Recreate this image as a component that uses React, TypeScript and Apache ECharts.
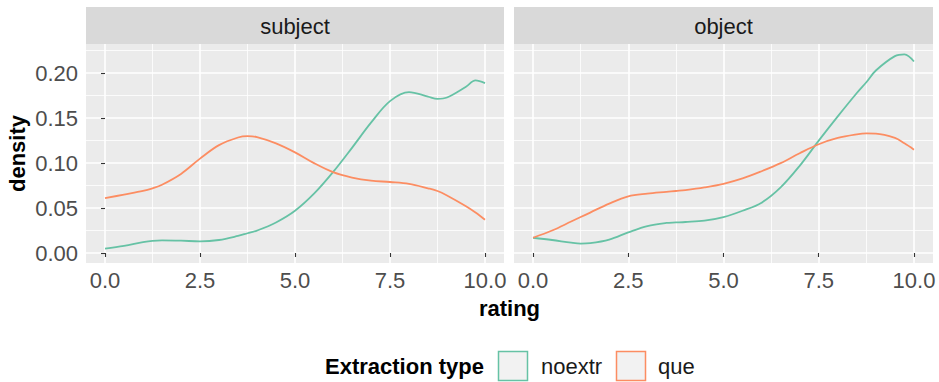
import React, { useEffect, useRef } from "react";
import * as echarts from "echarts";

const ratingGrid = [0, 0.5, 1, 1.25, 1.5, 2, 2.5, 3, 3.5, 3.75, 4, 4.5, 5, 5.5, 6, 6.5, 7, 7.5, 8, 8.5, 8.75, 9, 9.5, 9.75, 10];
const subjectNoextr = [0.005, 0.008, 0.012, 0.0135, 0.014, 0.0137, 0.013, 0.0145, 0.019, 0.022, 0.025, 0.034, 0.047, 0.066, 0.09, 0.117, 0.145, 0.169, 0.179, 0.174, 0.1715, 0.173, 0.185, 0.192, 0.189];
const subjectQue = [0.061, 0.065, 0.069, 0.072, 0.076, 0.088, 0.105, 0.12, 0.1285, 0.13, 0.129, 0.122, 0.112, 0.1, 0.09, 0.084, 0.0805, 0.079, 0.077, 0.072, 0.069, 0.064, 0.052, 0.045, 0.037];
const objectNoextr = [0.017, 0.0145, 0.0115, 0.0105, 0.011, 0.015, 0.023, 0.03, 0.0335, 0.034, 0.0345, 0.036, 0.04, 0.047, 0.056, 0.073, 0.097, 0.125, 0.152, 0.178, 0.19, 0.203, 0.219, 0.221, 0.213];
const objectQue = [0.017, 0.025, 0.035, 0.04, 0.045, 0.055, 0.063, 0.066, 0.068, 0.069, 0.07, 0.073, 0.077, 0.083, 0.091, 0.1, 0.111, 0.121, 0.128, 0.132, 0.133, 0.1328, 0.128, 0.122, 0.115];

const facets = ["subject", "object"];
const groups = ["noextr", "que"];
const groupColors = ["#66C2A5", "#FC8D62"];
const xMajor = [0, 2.5, 5, 7.5, 10];
const xMinor = [1.25, 3.75, 6.25, 8.75];
const yMajor = [0, 0.05, 0.1, 0.15, 0.2];
const yMinor = [0.025, 0.075, 0.125, 0.175, 0.225];

const FONT = "Liberation Sans, Arial, sans-serif";

export default function App() {
  const ref = useRef<HTMLDivElement>(null);
  useEffect(() => {
    if (!ref.current) return;
    const chart = echarts.init(ref.current, null, { renderer: "svg" });
    const grids = [
      { left: 86, top: 44, width: 418, height: 219 },
      { left: 514, top: 44, width: 419, height: 219 },
    ];
    const xAxes: any[] = [];
    const yAxes: any[] = [];
    grids.forEach((_, gi) => {
      xAxes.push({
        gridIndex: gi, type: "value", min: -0.5, max: 10.5, position: "bottom",
        axisLine: { show: false },
        axisTick: { show: true, length: 4, lineStyle: { color: "#333333", width: 1.1 }, customValues: xMajor },
        axisLabel: { show: true, customValues: xMajor, formatter: (v: number) => v.toFixed(1), fontSize: 22, color: "#4d4d4d", margin: 6, fontFamily: FONT },
        splitLine: { show: true, lineStyle: { color: "#ffffff", width: 1.6 } },
      });
      xAxes.push({
        gridIndex: gi, type: "value", min: -0.5, max: 10.5, position: "top",
        axisLine: { show: false },
        axisTick: { show: false, customValues: xMinor },
        axisLabel: { show: false, customValues: xMinor },
        splitLine: { show: true, lineStyle: { color: "#ffffff", width: 0.8 } },
      });
      yAxes.push({
        gridIndex: gi, type: "value", min: -0.0111, max: 0.2325, position: "left",
        axisLine: { show: false },
        axisTick: { show: gi === 0, length: 4, lineStyle: { color: "#333333", width: 1.1 }, customValues: yMajor },
        axisLabel: { show: gi === 0, customValues: yMajor, formatter: (v: number) => v.toFixed(2), fontSize: 22, color: "#4d4d4d", margin: 8, fontFamily: FONT },
        splitLine: { show: true, lineStyle: { color: "#ffffff", width: 1.6 } },
      });
      yAxes.push({
        gridIndex: gi, type: "value", min: -0.0111, max: 0.2325, position: "right",
        axisLine: { show: false },
        axisTick: { show: false, customValues: yMinor },
        axisLabel: { show: false, customValues: yMinor },
        splitLine: { show: true, lineStyle: { color: "#ffffff", width: 0.8 } },
      });
    });
    const seriesData = [
      [subjectNoextr, subjectQue],
      [objectNoextr, objectQue],
    ];
    const series: any[] = [];
    seriesData.forEach((pair, gi) => {
      pair.forEach((vals, si) => {
        series.push({
          type: "line", name: groups[si], xAxisIndex: gi * 2, yAxisIndex: gi * 2,
          data: ratingGrid.map((x, i) => [x, vals[i]]),
          smooth: 0.35, showSymbol: false, symbol: "none",
          lineStyle: { color: groupColors[si], width: 1.8 },
          itemStyle: { color: groupColors[si] },
          z: 5,
        });
      });
    });
    const graphic: any[] = [];
    grids.forEach((g, gi) => {
      graphic.push({ type: "rect", shape: { x: g.left, y: 7, width: g.width, height: 37 }, style: { fill: "#d9d9d9" } });
      graphic.push({ type: "text", x: g.left + g.width / 2, y: 26, style: { text: facets[gi], fontSize: 22, fill: "#1a1a1a", align: "center", verticalAlign: "middle", fontFamily: FONT } });
    });
    graphic.push({ type: "text", x: 509.5, y: 308, style: { text: "rating", fontSize: 22, fontWeight: "bold", fill: "#000000", align: "center", verticalAlign: "middle", fontFamily: FONT } });
    graphic.push({ type: "text", x: 17, y: 153.5, rotation: Math.PI / 2, style: { text: "density", fontSize: 22, fontWeight: "bold", fill: "#000000", align: "center", verticalAlign: "middle", fontFamily: FONT } });
    graphic.push({ type: "text", x: 325, y: 366, style: { text: "Extraction type", fontSize: 22, fontWeight: "bold", fill: "#000000", align: "left", verticalAlign: "middle", fontFamily: FONT } });
    const keyX = [498.5, 616.5];
    const labelX = [541, 658];
    groups.forEach((name, i) => {
      graphic.push({ type: "rect", shape: { x: keyX[i], y: 351.5, width: 29, height: 29 }, style: { fill: "#f2f2f2", stroke: groupColors[i], lineWidth: 1.5 } });
      graphic.push({ type: "text", x: labelX[i], y: 366, style: { text: name, fontSize: 22, fill: "#1a1a1a", align: "left", verticalAlign: "middle", fontFamily: FONT } });
    });
    chart.setOption({
      animation: false,
      backgroundColor: "#ffffff",
      textStyle: { fontFamily: FONT },
      grid: grids.map((g) => ({ ...g, show: true, backgroundColor: "#ebebeb", borderWidth: 0, containLabel: false })),
      xAxis: xAxes,
      yAxis: yAxes,
      series,
      graphic,
    });
    return () => chart.dispose();
  }, []);
  return <div ref={ref} style={{ position: "fixed", left: 0, top: 0, width: 939, height: 382 }} />;
}
